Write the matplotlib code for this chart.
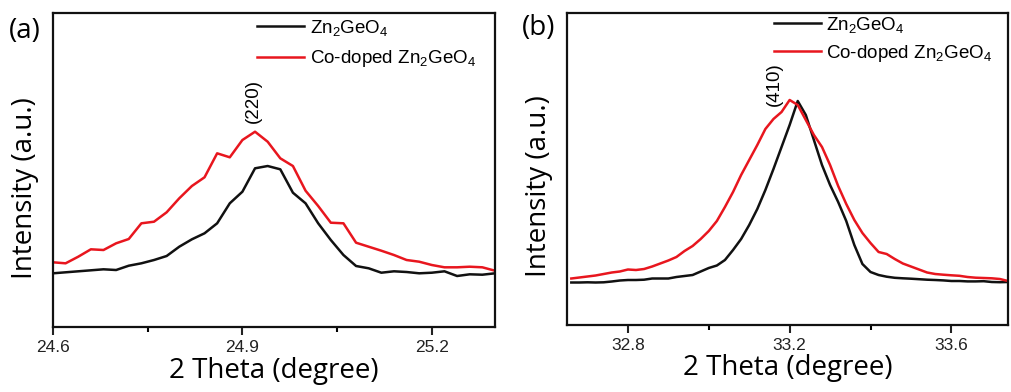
import matplotlib
matplotlib.use('Agg')
import matplotlib.pyplot as plt
from matplotlib.ticker import FixedLocator

plt.rcParams['font.family'] = ['Liberation Sans', 'DejaVu Sans']
plt.rcParams['mathtext.fontset'] = 'custom'
plt.rcParams['mathtext.rm'] = 'Liberation Sans'
plt.rcParams['mathtext.default'] = 'regular'

# ---- data (intensity in arbitrary units) ----
# panel (a): (220) reflection
theta_a = [24.60, 24.62, 24.64, 24.66, 24.68, 24.70, 24.72, 24.74, 24.76, 24.78,
           24.80, 24.82, 24.84, 24.86, 24.88, 24.90, 24.92, 24.94, 24.96, 24.98,
           25.00, 25.02, 25.04, 25.06, 25.08, 25.10, 25.12, 25.14, 25.16, 25.18,
           25.20, 25.22, 25.24, 25.26, 25.28, 25.30]
zgo_a = [53.7, 54.7, 55.7, 56.7, 57.7, 57.0, 61.3, 63.7, 67.0, 71.0,
         80.3, 87.7, 93.7, 103.7, 123.7, 135.3, 158.7, 161.0, 157.7, 134.3,
         123.7, 103.7, 87.0, 72.0, 61.0, 58.7, 54.3, 55.7, 55.0, 53.7,
         54.3, 55.7, 51.0, 52.7, 52.3, 53.7]
co_a = [64.7, 63.7, 70.3, 77.7, 77.0, 83.7, 88.0, 103.7, 105.3, 114.7,
        128.7, 141.0, 149.7, 173.7, 169.7, 187.0, 195.3, 185.3, 168.7, 161.0,
        136.3, 121.0, 104.3, 103.7, 84.3, 80.3, 76.3, 72.0, 67.0, 65.3,
        62.0, 59.7, 59.7, 60.3, 59.7, 56.3]

# panel (b): (410) reflection
theta_b = [32.66, 32.68, 32.70, 32.72, 32.74, 32.76, 32.78, 32.80, 32.82, 32.84,
           32.86, 32.88, 32.90, 32.92, 32.94, 32.96, 32.98, 33.00, 33.02, 33.04,
           33.06, 33.08, 33.10, 33.12, 33.14, 33.16, 33.18, 33.20, 33.22, 33.24,
           33.26, 33.28, 33.30, 33.32, 33.34, 33.36, 33.38, 33.40, 33.42, 33.44,
           33.46, 33.48, 33.50, 33.52, 33.54, 33.56, 33.58, 33.60, 33.62, 33.64,
           33.66, 33.68, 33.70, 33.72, 33.74]
zgo_b = [42.5, 42.5, 42.7, 42.5, 42.7, 43.5, 44.5, 45.0, 45.0, 45.3,
         46.5, 46.5, 46.5, 48.0, 49.0, 50.0, 53.5, 57.0, 59.5, 65.0,
         75.0, 86.0, 100.0, 116.0, 135.0, 156.0, 178.0, 200.0, 224.0, 210.0,
         185.0, 160.0, 140.0, 123.0, 104.0, 80.0, 61.0, 53.0, 50.0, 48.3,
         47.2, 46.7, 46.3, 45.8, 45.3, 45.0, 44.6, 44.0, 44.0, 43.6,
         43.6, 43.8, 43.0, 42.8, 43.0]
co_b = [46.5, 47.5, 48.5, 49.5, 51.0, 52.5, 53.5, 55.5, 55.0, 56.0,
        58.5, 61.5, 64.5, 68.0, 74.0, 79.0, 86.0, 94.0, 104.0, 118.0,
        133.0, 150.0, 165.0, 180.0, 196.0, 206.0, 213.0, 225.0, 220.0, 205.0,
        190.0, 178.0, 160.0, 139.0, 121.0, 105.0, 92.0, 82.0, 73.0, 71.0,
        66.0, 61.5, 58.5, 55.5, 52.5, 51.0, 50.3, 49.7, 49.2, 48.0,
        47.3, 47.0, 46.7, 46.0, 44.0]

ticks_a = [24.6, 24.9, 25.2]
minor_a = [24.75, 25.05]
ticks_b = [32.8, 33.2, 33.6]
minor_b = [33.0, 33.4]

labels = ['Zn$_2$GeO$_4$', 'Co-doped Zn$_2$GeO$_4$']
black = '#111111'
red = '#e8161e'
label_font = 'Open Sans'


def style_panel(ax, major, minor, xlim, ylim):
    ax.set_xlim(*xlim)
    ax.set_ylim(*ylim)
    ax.xaxis.set_major_locator(FixedLocator(major))
    ax.xaxis.set_minor_locator(FixedLocator(minor))
    ax.set_xticklabels([f'{t:.1f}' for t in major])
    ax.set_yticks([])
    ax.tick_params(axis='x', which='major', direction='out', length=6, width=1.5,
                   labelsize=12.5, pad=3, colors='#222222')
    ax.tick_params(axis='x', which='minor', direction='out', length=3.5, width=1.5)
    for sp in ax.spines.values():
        sp.set_linewidth(1.6)
        sp.set_color('#111111')
    ax.set_xlabel('2 Theta (degree)', fontsize=20, family=label_font)
    ax.set_ylabel('Intensity (a.u.)', fontsize=20, family=label_font)
    ax.xaxis.label.set_va('center')
    ax.yaxis.label.set_va('center')


fig = plt.figure(figsize=(10.11, 3.92), dpi=100)

ax_a = fig.add_axes([0.0524, 0.1658, 0.4372, 0.801])
ax_a.plot(theta_a, zgo_a, color=black, lw=1.8, label=labels[0])
ax_a.plot(theta_a, co_a, color=red, lw=1.8, label=labels[1])
style_panel(ax_a, ticks_a, minor_a, (24.6, 25.3), (0, 314))
ax_a.xaxis.set_label_coords(0.5, -0.14)
ax_a.yaxis.set_label_coords(-0.063, 0.443)
ax_a.text(24.918, 204, '(220)', rotation=90, ha='center', va='bottom', fontsize=13.5)
ax_a.legend(loc='upper left', bbox_to_anchor=(0.462, 0.984), frameon=False,
            fontsize=13.5, handlelength=2.5, handletextpad=0.3, labelspacing=0.55,
            borderpad=0, borderaxespad=0)

ax_b = fig.add_axes([0.5611, 0.1709, 0.4359, 0.796])
ax_b.plot(theta_b, zgo_b, color=black, lw=1.8, label=labels[0])
ax_b.plot(theta_b, co_b, color=red, lw=1.8, label=labels[1])
style_panel(ax_b, ticks_b, minor_b, (32.65, 33.74), (0, 312))
ax_b.xaxis.set_label_coords(0.5, -0.138)
ax_b.yaxis.set_label_coords(-0.065, 0.446)
ax_b.text(33.163, 219, '(410)', rotation=90, ha='center', va='bottom', fontsize=13.5)
ax_b.legend(loc='upper left', bbox_to_anchor=(0.469, 0.994), frameon=False,
            fontsize=13.5, handlelength=2.5, handletextpad=0.3, labelspacing=0.42,
            borderpad=0, borderaxespad=0)

fig.text(25 / 1011, 1 - 31 / 392, '(a)', fontsize=20, family=label_font,
         ha='center', va='center')
fig.text(539 / 1011, 1 - 28 / 392, '(b)', fontsize=20, family=label_font,
         ha='center', va='center')

fig.savefig('out.png', dpi=100, facecolor='white')
